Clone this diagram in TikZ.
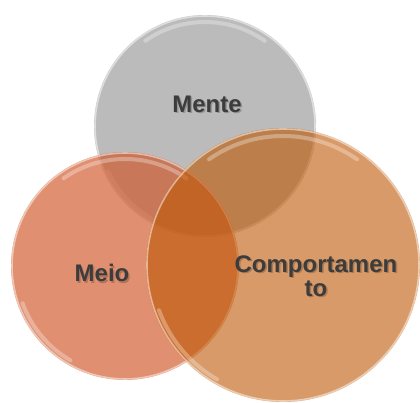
\documentclass[tikz,border=0pt]{standalone}
\usepackage{fontspec}
\setmainfont{Liberation Sans}
\definecolor{gr}{RGB}{187,187,187}
\definecolor{meioc}{RGB}{208,86,38}
\definecolor{compc}{RGB}{190,87,3}
\definecolor{txt}{RGB}{60,60,60}
\tikzset{
  circ/.style={circle, inner sep=0pt, draw=none},
  rim/.style={draw=white, draw opacity=0.5, line width=1.6pt},
  gloss/.style={draw=white, draw opacity=0.3, line width=4pt, line cap=round},
  lbl/.style={font=\bfseries\fontsize{24}{24}\selectfont, text=txt, align=center, inner sep=0pt},
  shd/.style={font=\bfseries\fontsize{24}{24}\selectfont, text=black, text opacity=0.2, align=center, inner sep=0pt}
}
\begin{document}
\begin{tikzpicture}[x=1pt,y=1pt]
\useasboundingbox (0,0) rectangle (420,403);
% circles
\node[circ, minimum size=222pt, fill=gr] (mente) at (205,277) {};
\draw[rim] (mente.center) circle (110);
\draw[gloss] ([shift={(55:104)}]mente.center) arc[start angle=55, end angle=125, radius=104];
\draw[gloss] ([shift={(205:107)}]mente.center) arc[start angle=205, end angle=240, radius=107];

\node[circ, minimum size=228pt, fill=meioc, fill opacity=0.66] (meio) at (125,137) {};
\draw[rim] (meio.center) circle (113);
\draw[gloss] ([shift={(55:107)}]meio.center) arc[start angle=55, end angle=125, radius=107];
\draw[gloss] ([shift={(200:109)}]meio.center) arc[start angle=200, end angle=240, radius=109];

\node[circ, minimum size=274pt, fill=compc, fill opacity=0.6] (comp) at (283,138) {};
\draw[rim] (comp.center) circle (136);
\draw[gloss] ([shift={(55:129)}]comp.center) arc[start angle=55, end angle=125, radius=129];
\draw[gloss] ([shift={(200:132)}]comp.center) arc[start angle=200, end angle=240, radius=132];

% labels
\node[shd] at (208.5,297.5) {Mente};
\node[lbl] (tmente) at (207,299) {Mente};
\node[shd] at (103.5,128.5) {Meio};
\node[lbl] (tmeio) at (102,130) {Meio};
\node[shd] at (317.5,125.5) {Comportamen\\to};
\node[lbl] (tcomp) at (316,127) {Comportamen\\to};
\end{tikzpicture}
\end{document}
